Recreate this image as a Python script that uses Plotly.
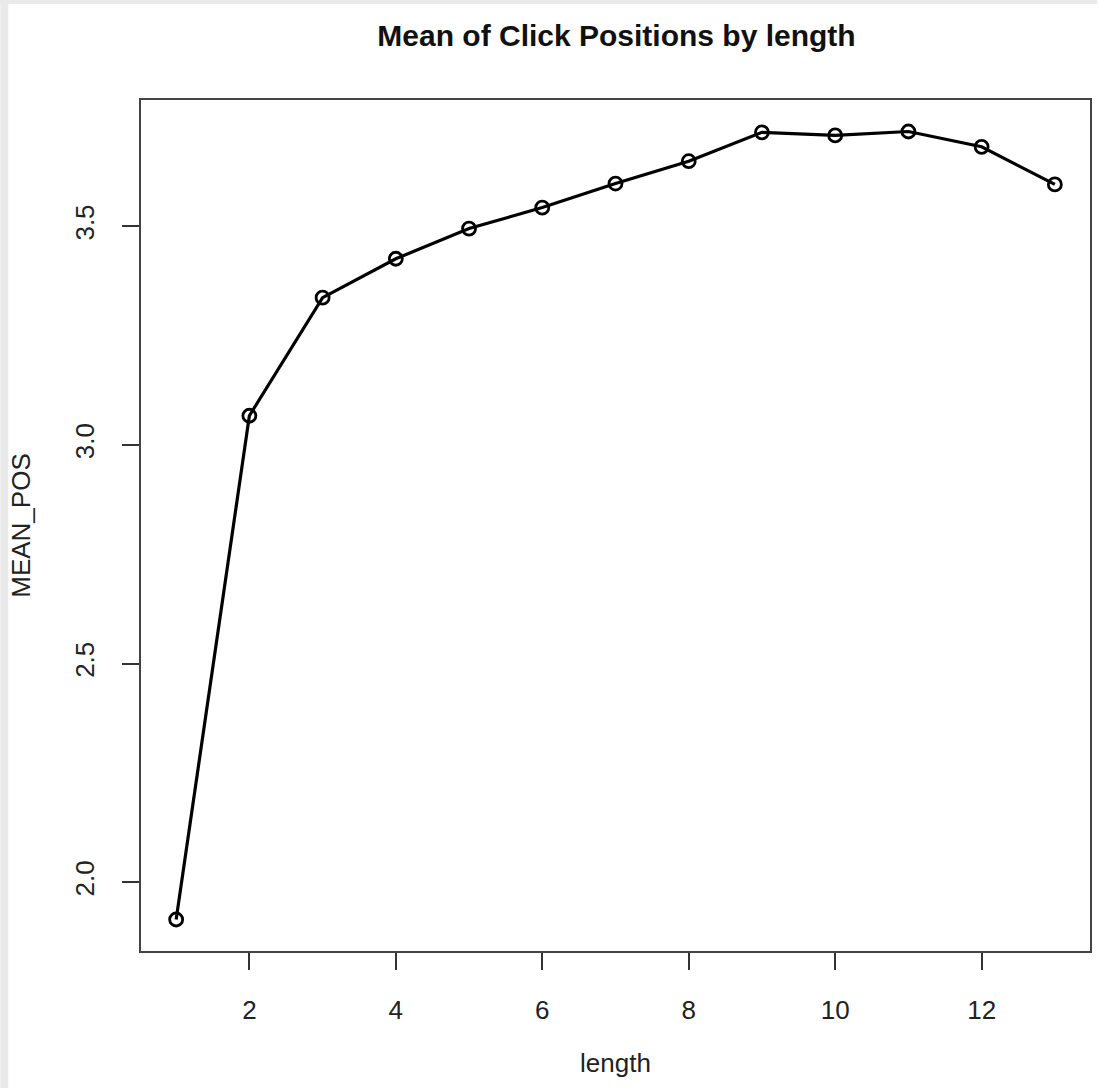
import plotly.graph_objects as go

lengths = [1, 2, 3, 4, 5, 6, 7, 8, 9, 10, 11, 12, 13]
mean_pos = [1.915, 3.067, 3.337, 3.426, 3.495, 3.543, 3.598, 3.649, 3.715, 3.708, 3.717, 3.682, 3.596]

x_ticks = [2, 4, 6, 8, 10, 12]
y_ticks = [2.0, 2.5, 3.0, 3.5]

W, H = 1099, 1088
L, R, T, B = 141, 7, 100, 137
pw, ph = W - L - R, H - T - B

fig = go.Figure()
fig.add_trace(go.Scatter(
    x=lengths, y=mean_pos, mode="lines+markers",
    line=dict(color="black", width=3.2),
    marker=dict(symbol="circle-open", size=13, color="black", line=dict(width=2.8, color="black")),
    showlegend=False,
))

# light grey page edge strips (left and top)
fig.add_shape(type="rect", xref="paper", yref="paper", x0=-L / pw, x1=(8 - L) / pw, y0=-B / ph, y1=(H - B) / ph,
              fillcolor="#e9e9e9", line_width=0, layer="below")
fig.add_shape(type="rect", xref="paper", yref="paper", x0=-L / pw, x1=(W - L) / pw, y0=(H - B - 4) / ph, y1=(H - B) / ph,
              fillcolor="#e9e9e9", line_width=0, layer="below")

font = "Liberation Sans, Arial, sans-serif"
fig.update_layout(
    width=W, height=H,
    margin=dict(l=L, r=R, t=T, b=B),
    paper_bgcolor="white", plot_bgcolor="white",
    font=dict(family=font, color="#222", size=26),
    title=dict(text="<b>Mean of Click Positions by length</b>", x=(L + W - R) / 2 / W, xanchor="center",
               y=1 - 35 / H, yanchor="middle", font=dict(size=30, color="#111", family=font)),
    xaxis=dict(range=[0.52, 13.48], tickvals=x_ticks, ticks="outside", ticklen=17, tickwidth=1.5,
               tickcolor="#333", showline=True, linecolor="#444", linewidth=1.5, mirror=True,
               showgrid=False, zeroline=False, ticklabelstandoff=18, tickfont=dict(size=26),
               title=dict(text="length", standoff=30, font=dict(size=26))),
    yaxis=dict(range=[1.843, 3.789], tickvals=y_ticks, tickformat=".1f", tickangle=-90, ticks="outside",
               ticklen=17, tickwidth=1.5, tickcolor="#333", showline=True, linecolor="#444", linewidth=1.5,
               mirror=True, showgrid=False, zeroline=False, ticklabelstandoff=18, tickfont=dict(size=26),
               title=dict(text="MEAN_POS", standoff=32, font=dict(size=26))),
)

fig.write_html("out.html")
